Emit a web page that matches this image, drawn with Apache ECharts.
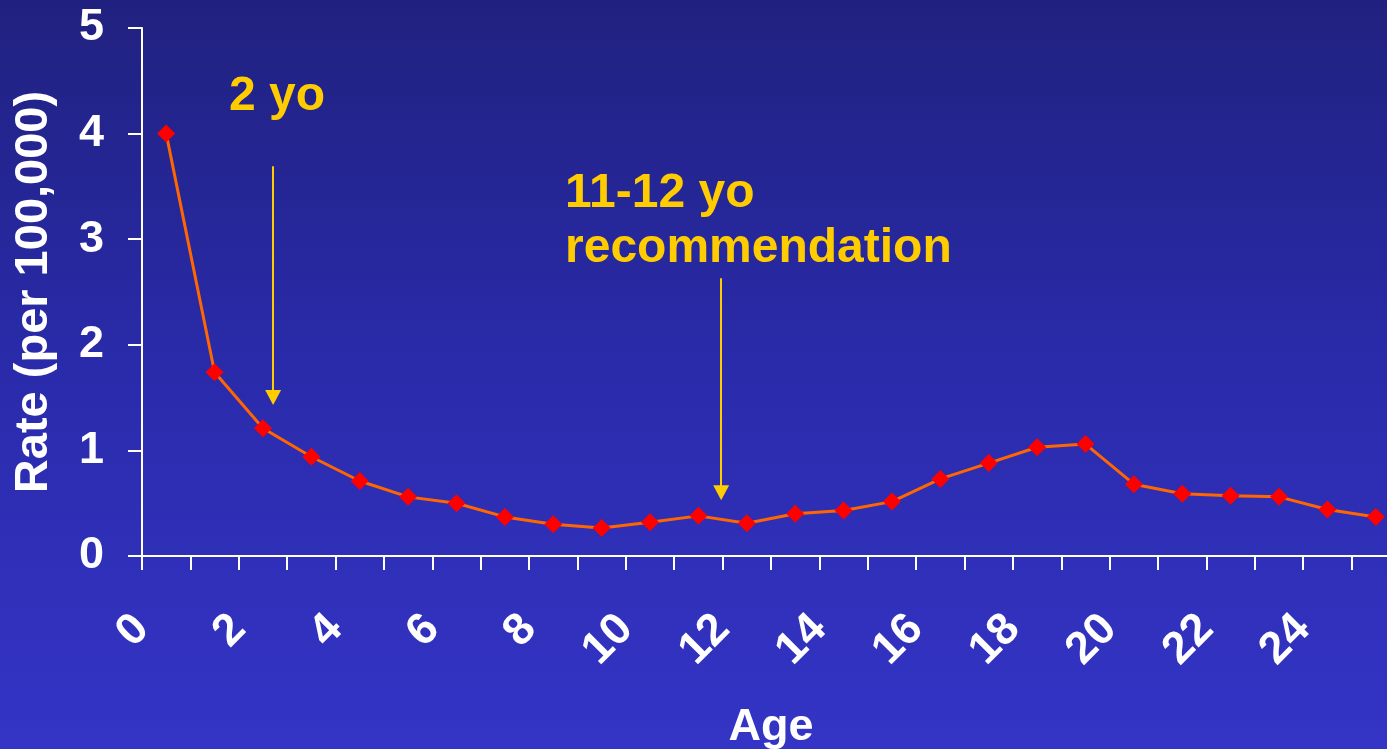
<!DOCTYPE html>
<html>
<head>
<meta charset="utf-8">
<title>Rate by Age</title>
<script src="https://cdn.jsdelivr.net/npm/echarts@6/dist/echarts.min.js"></script>
<style>
  html, body { margin: 0; padding: 0; width: 100%; height: 100%; overflow: hidden; }
  #chart { width: 1387px; height: 749px; }
</style>
</head>
<body>
<div id="chart"></div>
<script>
// Age in completed years (each point is plotted at the middle of its year)
const ages = [0, 1, 2, 3, 4, 5, 6, 7, 8, 9, 10, 11, 12, 13, 14, 15, 16, 17, 18, 19, 20, 21, 22, 23, 24, 25];
// Rate per 100,000
const rates = [4.00, 1.74, 1.21, 0.94, 0.71, 0.56, 0.50, 0.37, 0.30, 0.265, 0.32, 0.38, 0.31, 0.40, 0.43, 0.515, 0.73, 0.88, 1.03, 1.06, 0.68, 0.59, 0.57, 0.56, 0.44, 0.37];
// Labelled ticks on the age axis
const xTickLabels = ['0', '2', '4', '6', '8', '10', '12', '14', '16', '18', '20', '22', '24'];
const yTickLabels = ['0', '1', '2', '3', '4', '5'];

// Annotation arrows: [x (age), top of shaft, end of shaft] in data units
const arrow2yo = [2.71, 3.69, 1.50];
const arrow11to12 = [11.97, 2.63, 0.60];

const FONT = '"Liberation Sans", Arial, sans-serif';
const YELLOW = '#FFCC00';

const chart = echarts.init(document.getElementById('chart'), null, { renderer: 'canvas' });

const points = ages.map((a, i) => [a + 0.5, rates[i]]);

function arrow(a) {
  return [{ coord: [a[0], a[1]] }, { coord: [a[0], a[2]] }];
}

chart.setOption({
  animation: false,
  backgroundColor: {
    type: 'linear', x: 0, y: 0, x2: 0, y2: 1,
    colorStops: [
      { offset: 0, color: '#20217f' },
      { offset: 0.5, color: '#2a2bab' },
      { offset: 1, color: '#3434c6' }
    ]
  },
  grid: {
    left: 142, top: 28, right: -13, bottom: 193,
    containLabel: false,
    outerBoundsMode: 'none'
  },
  xAxis: {
    type: 'value',
    min: 0,
    max: 26,
    interval: 1,
    name: 'Age',
    nameLocation: 'middle',
    nameGap: 149,
    nameTextStyle: { color: '#ffffff', fontFamily: FONT, fontWeight: 'bold', fontSize: 45 },
    axisLine: { show: true, lineStyle: { color: '#ffffff', width: 2 } },
    axisTick: { show: true, length: 14, inside: false, lineStyle: { color: '#ffffff', width: 2 } },
    splitLine: { show: false },
    axisLabel: {
      rotate: 45,
      margin: 66,
      color: '#ffffff',
      fontFamily: FONT,
      fontWeight: 'bold',
      fontSize: 45,
      showMaxLabel: false,
      hideOverlap: false,
      formatter: function (v) {
        const s = String(v);
        return xTickLabels.indexOf(s) >= 0 ? s : '';
      }
    }
  },
  yAxis: {
    type: 'value',
    min: 0,
    max: 5,
    interval: 1,
    name: 'Rate (per 100,000)',
    nameLocation: 'middle',
    nameGap: 84,
    nameRotate: 90,
    nameTextStyle: { color: '#ffffff', fontFamily: FONT, fontWeight: 'bold', fontSize: 47 },
    axisLine: { show: true, lineStyle: { color: '#ffffff', width: 2 } },
    axisTick: { show: true, length: 14, inside: false, lineStyle: { color: '#ffffff', width: 2 } },
    splitLine: { show: false },
    axisLabel: {
      margin: 38,
      color: '#ffffff',
      fontFamily: FONT,
      fontWeight: 'bold',
      fontSize: 45,
      formatter: function (v) {
        const s = String(v);
        return yTickLabels.indexOf(s) >= 0 ? s : '';
      }
    }
  },
  series: [
    {
      type: 'line',
      data: points,
      symbol: 'diamond',
      symbolSize: 18,
      showAllSymbol: true,
      lineStyle: { color: '#FF6600', width: 3 },
      itemStyle: { color: '#FF0000' },
      z: 3,
      markLine: {
        silent: true,
        symbol: ['none', 'triangle'],
        symbolSize: [16, 15],
        label: { show: false },
        lineStyle: { color: YELLOW, width: 2, type: 'solid' },
        itemStyle: { color: YELLOW },
        data: [arrow(arrow2yo), arrow(arrow11to12)]
      }
    }
  ],
  graphic: [
    {
      type: 'text', left: 229, top: 73,
      style: { text: '2 yo', fill: YELLOW, font: 'bold 48px ' + FONT }
    },
    {
      type: 'text', left: 565, top: 170,
      style: { text: '11-12 yo', fill: YELLOW, font: 'bold 48px ' + FONT }
    },
    {
      type: 'text', left: 565, top: 225,
      style: { text: 'recommendation', fill: YELLOW, font: 'bold 48px ' + FONT }
    }
  ]
});
</script>
</body>
</html>
